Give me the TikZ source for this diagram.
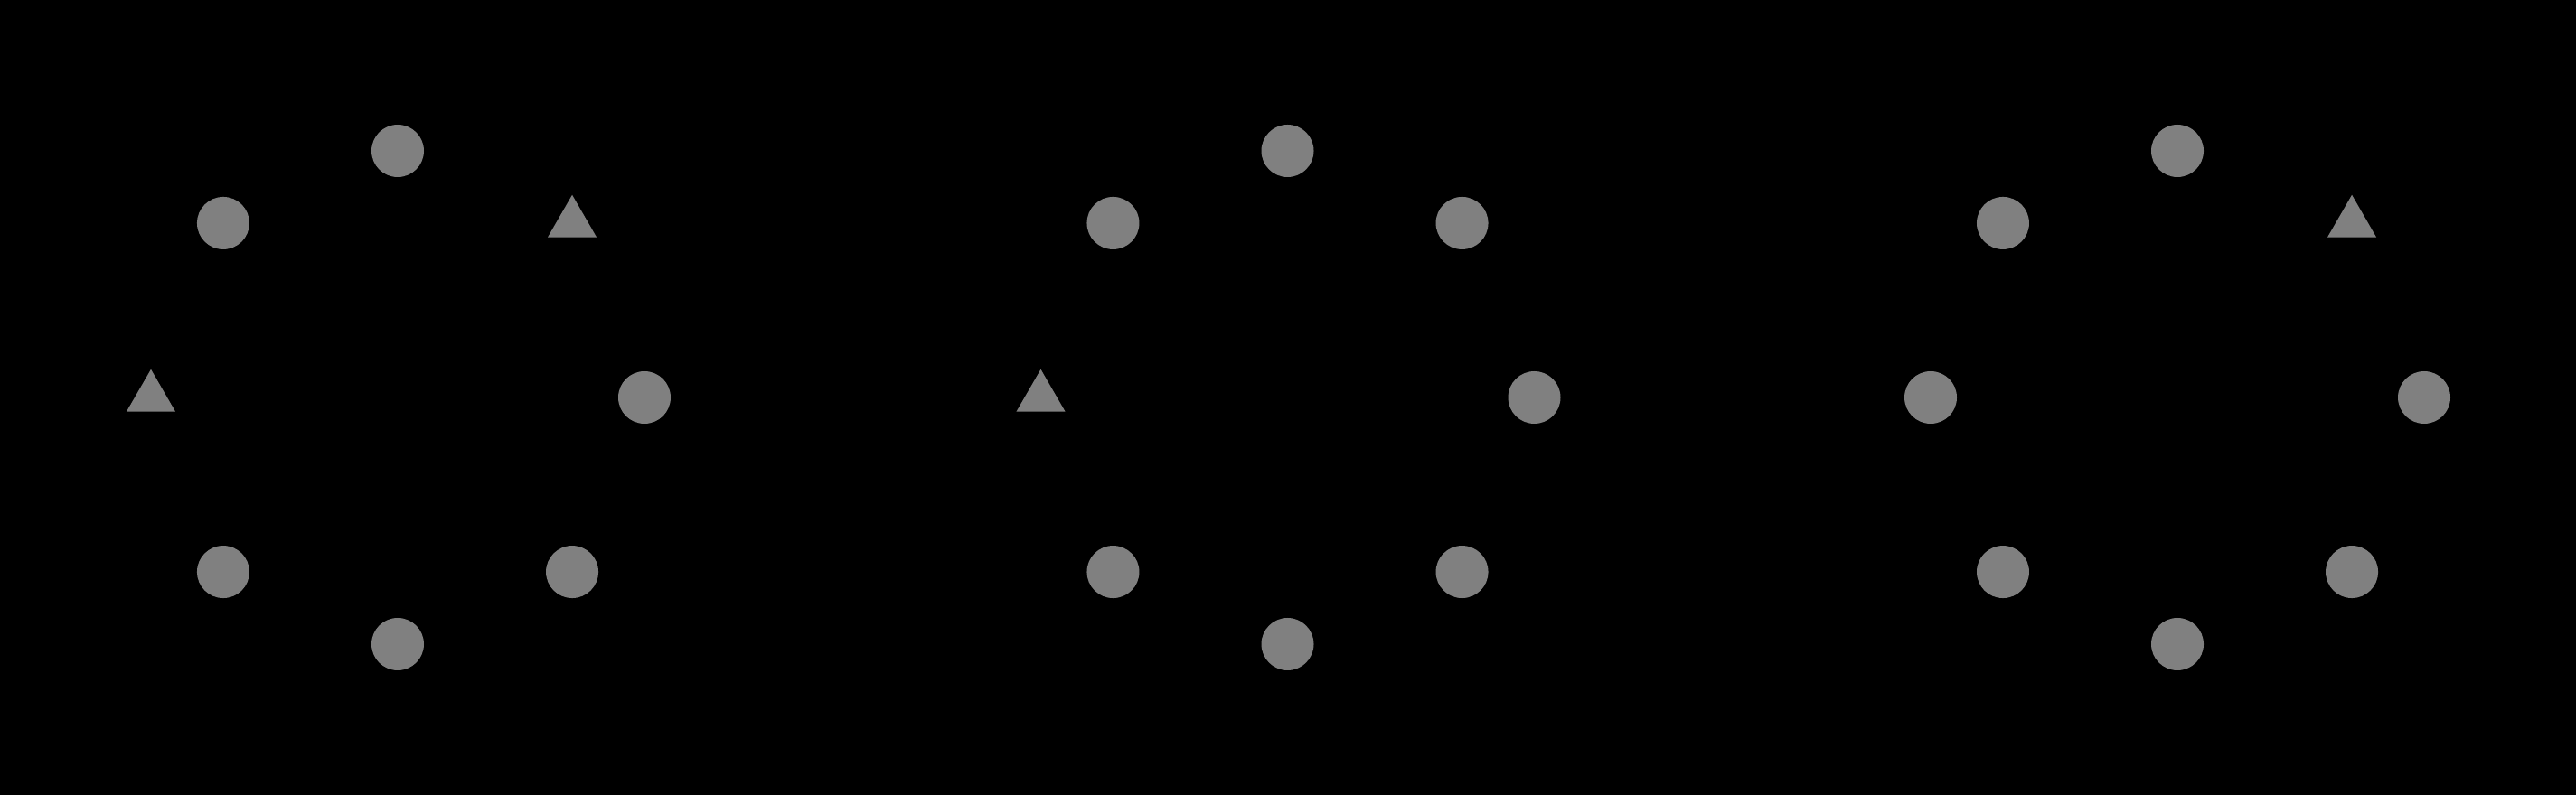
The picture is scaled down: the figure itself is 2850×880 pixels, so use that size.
\documentclass[tikz,border=0pt]{standalone}
\usetikzlibrary{shapes.geometric}
\tikzset{
  dot/.style={circle, fill=gray, draw=none, minimum size=58pt, inner sep=0pt, outer sep=0pt},
  tri/.style={regular polygon, regular polygon sides=3, fill=gray, draw=none, minimum size=62.4pt, inner sep=0pt, outer sep=0pt}
}
\begin{document}
\begin{tikzpicture}[x=1pt,y=1pt]
\fill[black] (0,0) rectangle (2850,880);
\useasboundingbox (0,0) rectangle (2850,880);
% group 1
\begin{scope}[shift={(440,440)}]
  \foreach \a in {0,90,135,225,270,315} \node[dot] (ga\a) at (\a:273) {};
  \foreach \a in {45,180} \node[tri] (ga\a) at (\a:273) {};
\end{scope}
% group 2
\begin{scope}[shift={(1424.5,440)}]
  \foreach \a in {0,45,90,135,225,270,315} \node[dot] (gb\a) at (\a:273) {};
  \foreach \a in {180} \node[tri] (gb\a) at (\a:273) {};
\end{scope}
% group 3
\begin{scope}[shift={(2409,440)}]
  \foreach \a in {0,90,135,180,225,270,315} \node[dot] (gc\a) at (\a:273) {};
  \foreach \a in {45} \node[tri] (gc\a) at (\a:273) {};
\end{scope}
\end{tikzpicture}
\end{document}
